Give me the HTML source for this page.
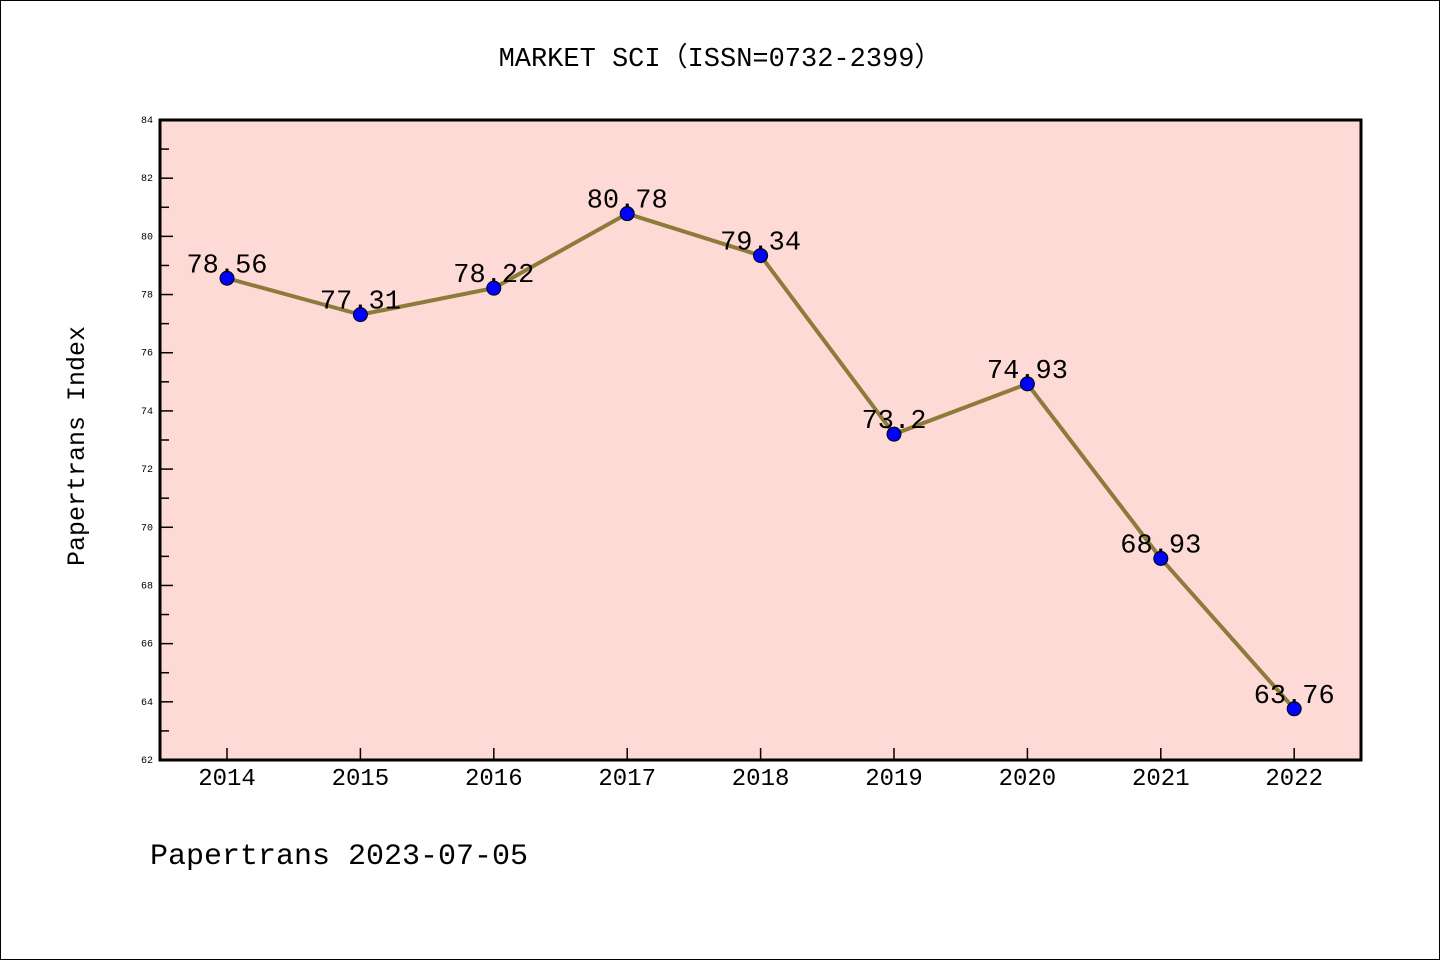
<!DOCTYPE html>
<html><head><meta charset="utf-8"><style>
body{margin:0;background:#fff}
svg{display:block}
text{font-family:"Liberation Mono","Noto Sans CJK SC",monospace}
</style></head><body>
<svg id="c" width="1440" height="960">
<rect x="0.5" y="0.5" width="1439" height="959" fill="#fff" stroke="#000"/>
<text x="720" y="66" text-anchor="middle" font-size="27">MARKET SCI（ISSN=0732-2399）</text>
<rect x="160" y="120" width="1201" height="640" fill="#fddad6"/>
<g id="ticks"></g>
<g id="series"></g>
<rect x="160" y="120" width="1201" height="640" fill="none" stroke="#000" stroke-width="3"/>
<text transform="translate(84,446) rotate(-90)" text-anchor="middle" font-size="25">Papertrans Index</text>
<text x="150" y="864" font-size="30">Papertrans 2023-07-05</text>
</svg>
<script>
const years=["2014","2015","2016","2017","2018","2019","2020","2021","2022"];
const values=[78.56,77.31,78.22,80.78,79.34,73.2,74.93,68.93,63.76];
const valueLabels=["78.56","77.31","78.22","80.78","79.34","73.2","74.93","68.93","63.76"];
const yTicks=[62,64,66,68,70,72,74,76,78,80,82,84];
const NS="http://www.w3.org/2000/svg";
const yMin=62,yMax=84,plotTop=120,plotBot=760,x0=227,dx=133.4;
const y=v=>plotBot-(v-yMin)/(yMax-yMin)*(plotBot-plotTop);
const x=i=>x0+i*dx;
function mk(t,a,p){const e=document.createElementNS(NS,t);for(const k in a)e.setAttribute(k,a[k]);p.appendChild(e);return e;}
const tg=document.getElementById('ticks'),sg=document.getElementById('series');
yTicks.forEach((v,i)=>{
  const l=mk('line',{x1:160,x2:173,y1:y(v),y2:y(v),stroke:'#000','stroke-width':1.5},tg);
  
  
  const t=mk('text',{x:153,y:y(v)+3,'text-anchor':'end','font-size':10,'font-family':'Liberation Sans, sans-serif'},tg);t.textContent=v;
  
  
  if(i<yTicks.length-1){const m=mk('line',{x1:160,x2:169,y1:y(v+1),y2:y(v+1),stroke:'#000','stroke-width':1.5},tg);
  
  }
});
years.forEach((yr,i)=>{
  const l=mk('line',{x1:x(i),x2:x(i),y1:760,y2:748,stroke:'#000','stroke-width':1.5},tg);
  
  
  const t=mk('text',{x:x(i),y:785,'text-anchor':'middle','font-size':24},tg);t.textContent=yr;
  
  
});
const pl=mk('polyline',{points:values.map((v,i)=>x(i)+','+y(v)).join(' '),fill:'none',stroke:'#8c7b3a','stroke-width':4},sg);


values.forEach((v,i)=>{
  const c=mk('circle',{cx:x(i),cy:y(v),r:7,fill:'#0000ff',stroke:'#000','stroke-width':1},sg);
  
  
  const t=mk('text',{x:x(i),y:y(v)-6,'text-anchor':'middle','font-size':27},sg);t.textContent=valueLabels[i];
  
  
});
</script>
</body></html>
